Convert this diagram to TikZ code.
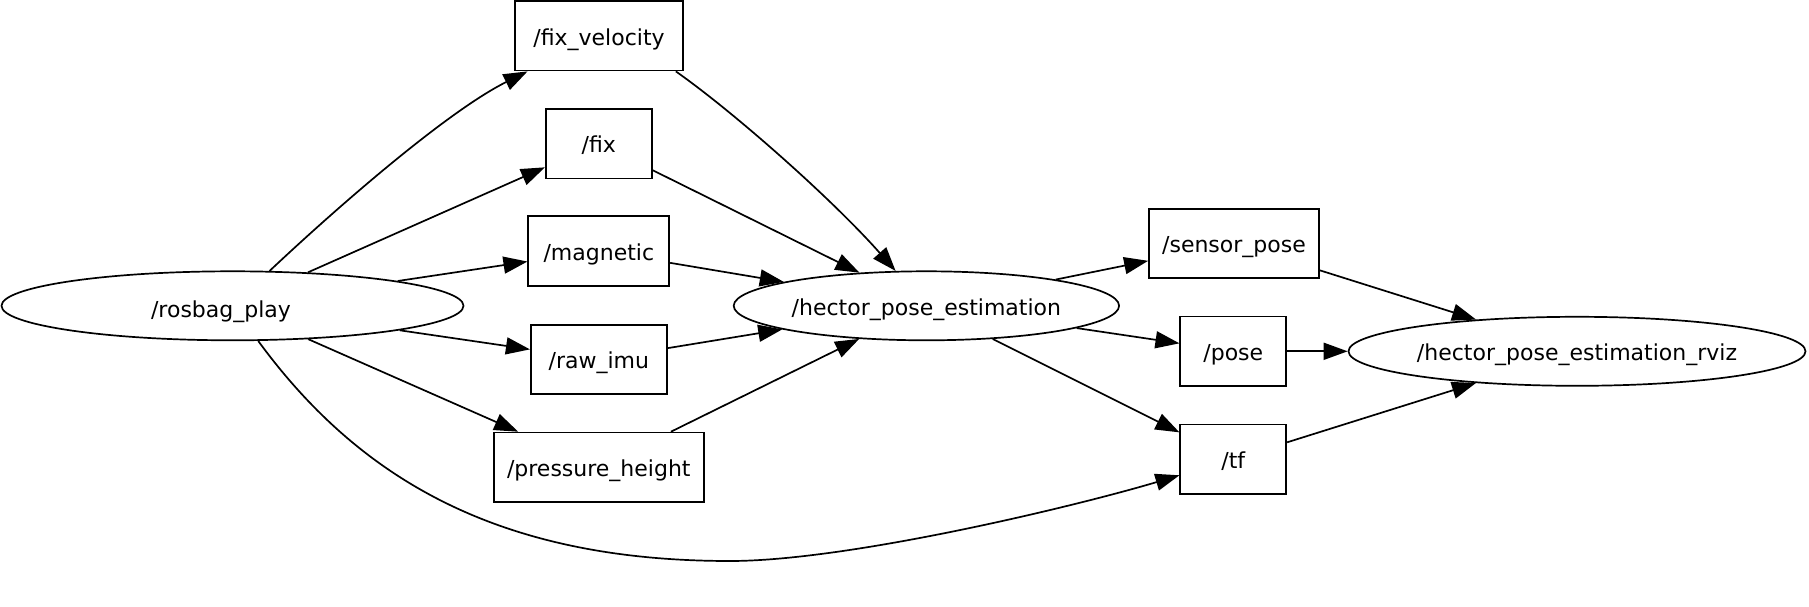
\documentclass[tikz,border=0pt]{standalone}
\usepackage{fontspec}
\setmainfont{DejaVu Sans}
\usetikzlibrary{shapes.geometric,arrows.meta}
\tikzset{
  labeltext/.style={font=\fontsize{22}{26}\selectfont, text height=18.5pt, text depth=0pt},
  topic/.style={draw, rectangle, line width=1.7pt, minimum height=69.5pt, inner sep=0pt, labeltext},
  rosnode/.style={draw, ellipse, line width=1.7pt, minimum height=69pt, inner sep=0pt, labeltext},
  conn/.style={-{Triangle[length=24pt,width=17pt]}, line width=1.7pt}
}
\begin{document}
\begin{tikzpicture}[x=1pt,y=-1pt]
\fill[white] (0,0) rectangle (1809,607);
\useasboundingbox (0,0) rectangle (1809,607);
% nodes
\node[rosnode, minimum width=462pt, text height=23pt] (rosbag) at (232.5,305.8) {\hspace*{-23pt}/rosbag\_play};
\node[rosnode, minimum width=385.4pt] (hector) at (926.4,305.8) {/hector\_pose\_estimation};
\node[rosnode, minimum width=457pt] (rviz) at (1577,351.3) {/hector\_pose\_estimation\_rviz};
\node[topic, minimum width=168pt] (fixvel) at (599,35.8) {/fix\_velocity};
\node[topic, minimum width=106pt] (fix) at (598.8,143.6) {/fix};
\node[topic, minimum width=141pt] (magnetic) at (598.8,250.9) {/magnetic};
\node[topic, minimum width=136pt] (rawimu) at (598.8,359.4) {/raw\_imu};
\node[topic, minimum width=210pt] (pressure) at (598.8,467.3) {/pressure\_height};
\node[topic, minimum width=170pt] (sensorpose) at (1234,243.4) {/sensor\_pose};
\node[topic, minimum width=106pt] (pose) at (1233.3,351.3) {/pose};
\node[topic, minimum width=106pt] (tf) at (1233.3,459.2) {/tf};
\coordinate (bend) at (730,561);
% edges
\draw[conn] (rosbag) .. controls (345,200) and (450,110) .. (fixvel);
\draw[conn] (rosbag) -- (fix);
\draw[conn] (rosbag) -- (magnetic);
\draw[conn] (rosbag) -- (rawimu);
\draw[conn] (rosbag) -- (pressure);
\draw[conn] (rosbag) .. controls (360,480) and (500,561) .. (bend) .. controls (850,561) and (1080,505) .. (tf);
\draw[conn] ([xshift=-8pt]fixvel.south east) .. controls (735,113) and (833,200) .. (hector);
\draw[conn] (fix) -- (hector);
\draw[conn] (magnetic) -- (hector);
\draw[conn] (rawimu) -- (hector);
\draw[conn] (pressure) -- (hector);
\draw[conn] (hector) -- (sensorpose);
\draw[conn] (hector) -- (pose);
\draw[conn] (hector) -- (tf);
\draw[conn] (sensorpose) -- (rviz);
\draw[conn] (pose) -- (rviz);
\draw[conn] (tf) -- (rviz);
\end{tikzpicture}
\end{document}
